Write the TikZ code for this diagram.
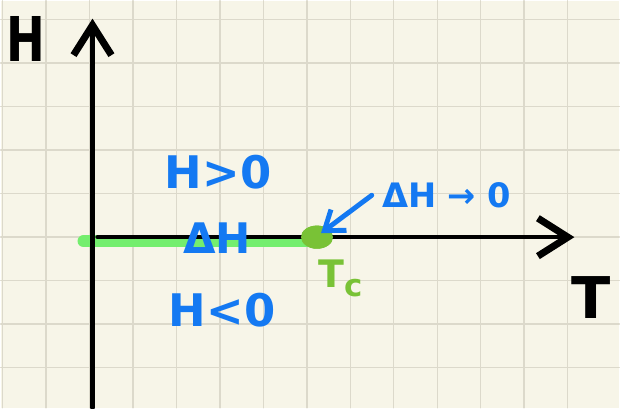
\documentclass[tikz,border=0pt]{standalone}
\usepackage{fontspec}
\setmainfont{DejaVu Sans}
\usetikzlibrary{arrows.meta,positioning,shapes.geometric}
\definecolor{paper}{HTML}{F7F5E8}
\definecolor{gridgray}{HTML}{DCD9CB}
\definecolor{penblue}{HTML}{1479F2}
\definecolor{marker}{HTML}{74EE6E}
\definecolor{dotgreen}{HTML}{79C236}

\begin{document}
\begin{tikzpicture}[x=0.025cm, y=-0.025cm, line cap=round,
    gridline/.style={gridgray, line width=0.035cm},
    axis/.style={black, line width=3pt, -{Straight Barb[length=0.75cm, width=0.95cm, line width=5pt]}},
    pointer/.style={penblue, line width=3.5pt, -{Straight Barb[length=0.45cm, width=0.65cm, line width=3.5pt]}},
    inkblack/.style={text=black, inner sep=0pt, font=\bfseries\fontsize{44}{44}\selectfont},
    inkblue/.style={text=penblue, inner sep=0pt, font=\bfseries\fontsize{32}{32}\selectfont}]
    % Paper and grid
    \fill[paper] (0,0) rectangle (620,408);
    \foreach \i in {0,...,13}
      \draw[gridline] ({2+43.55*\i},0) -- ({2+43.55*\i},408);
    \foreach \j in {0,...,8}
      \draw[gridline] (0,{19+43.55*\j}) -- (620,{19+43.55*\j});
    \useasboundingbox (0,0) rectangle (620,408);

    % Axis ends
    \coordinate (hbottom) at (92,408);
    \coordinate (htop) at (92,18);
    \coordinate (tstart) at (97,237);
    \coordinate (tend) at (575,237);
    \coordinate (gleft) at (83,241);

    % Highlighted segment and axes
    \node (tcdot) [ellipse, fill=dotgreen, minimum width=0.8cm, minimum height=0.58cm, inner sep=0pt] at (317,237) {};
    \draw[marker, line width=0.3cm] (gleft) -- (gleft -| tcdot);
    \draw[axis] (hbottom) -- (htop);
    \draw[axis] (tstart) -- (tend);
    \node[ellipse, fill=dotgreen, minimum width=0.8cm, minimum height=0.58cm, inner sep=0pt] at (tcdot) {};

    % Labels
    \node (hlabel) [inkblack, xscale=0.75] at (25,38) {H};
    \node (tlabel) [inkblack, font=\bfseries\fontsize{41}{41}\selectfont] at (592,298) {T};
    \node (hpos) [inkblue] at (218,172) {H>0};
    \node (gap) [inkblue, font=\bfseries\fontsize{30}{30}\selectfont] at (217,238) {ΔH};
    \node (hneg) [inkblue] at (222,310) {H<0};
    \node (limit) [inkblue, font=\bfseries\fontsize{24}{24}\selectfont] at (447,195) {ΔH → 0};
    \node (tclabel) [text=dotgreen, inner sep=0pt, font=\bfseries\fontsize{27}{27}\selectfont, below right=0.35cm and -0.25cm of tcdot] {T\raisebox{-0.45ex}{\fontsize{22}{22}\selectfont c}};

    % Arrow
    \draw[pointer] ([xshift=-0.25cm]limit.west) -- ([shift={(4,-4)}]tcdot.center);
\end{tikzpicture}
\end{document}
